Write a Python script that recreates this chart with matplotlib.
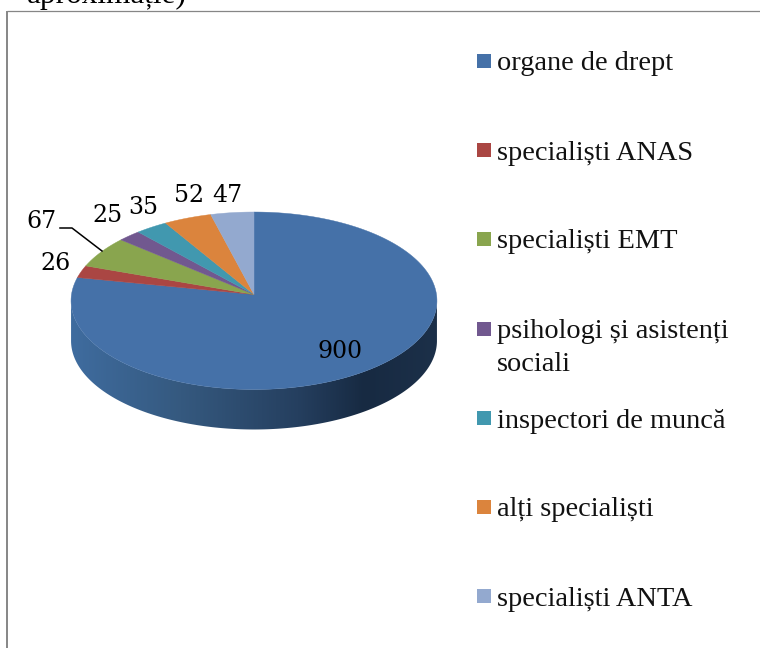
#!/usr/bin/env python3

import numpy as np

import matplotlib
matplotlib.use('Agg')
import matplotlib.pyplot as plt
from matplotlib.colors import LinearSegmentedColormap
from matplotlib.patches import Polygon, Rectangle

labels = ["organe de drept", "specialiști ANAS", "specialiști EMT",
          "psihologi și asistenți", "inspectori de muncă",
          "alți specialiști", "specialiști ANTA"]
values = [900, 26, 67, 25, 35, 52, 47]
colours = ["#4571A8", "#AA4643", "#89A54E", "#71588F", "#4198AF", "#DB843D", "#93A9CF"]

plt.rcParams['font.family'] = ['Liberation Serif', 'DejaVu Serif']

# pie centre and projection, in pixels
CX = 254.0
CY = 294.5
RX = 182.5
RY = 88.3
TILT = 0.0704
DEPTH = 40.0


def project(x, y):
    w = 1 + TILT * y
    return CX + RX * x / w, CY - RY * y / w


def arc(theta1, theta2, n=200):
    t = np.radians(np.linspace(theta1, theta2, n))
    return project(np.cos(t), np.sin(t))


fig = plt.figure(figsize=(7.6, 6.48), dpi=100)
ax = fig.add_axes([0, 0, 1, 1])

wedges, _ = ax.pie(values, colors=colours, startangle=90, counterclock=False)

ax.set_aspect('auto')
ax.axis('off')

# side wall of the disc, with the sideways shading
px, py = arc(180, 360)
keep = py >= CY + 6
px, py = px[keep], py[keep]
wall = np.column_stack([np.r_[px, px[::-1]], np.r_[py, py[::-1] + DEPTH]])
shade = LinearSegmentedColormap.from_list("wall", [(0, "#3F6C9F"), (0.3, "#35597F"), (0.62, "#253F5F"),
                                                   (0.8, "#172A42"), (1, "#1C3049")])
img = ax.imshow(np.linspace(0, 1, 256)[None, :], cmap=shade, extent=(71, 438, 440, 290),
                aspect='auto', zorder=1)
ax.set_xlim(0, 760)
ax.set_ylim(648, 0)
clip = Polygon(wall, transform=ax.transData, facecolor='none', edgecolor='none')
ax.add_patch(clip)
img.set_clip_path(clip)

# top face, angles from the pie
for w, colour in zip(wedges, colours):
    ax_x, ax_y = arc(w.theta1, w.theta2)
    cx, cy = project(0, 0)
    ax.add_patch(Polygon(np.column_stack([np.r_[cx, ax_x], np.r_[cy, ax_y]]),
                         facecolor=colour, edgecolor=colour, linewidth=0.3, zorder=2))
    w.set_visible(False)

# chart frame
ax.plot([7, 7], [648, 10.5], color="#868686", linewidth=1.4, solid_capstyle='butt')
ax.plot([7, 760], [10.5, 10.5], color="#868686", linewidth=0.9, solid_capstyle='butt')

# clipped line of the text above the chart
ax.text(27, 3, "aproximație)", fontsize=22.5, color="black", va='baseline')

# data labels
label_x = [340, 56, 41, 107, 143, 189, 227]
label_y = [351, 263, 222, 215, 208, 195, 196]
for v, x, y in zip(values, label_x, label_y):
    ax.text(x, y, str(v), fontsize=17, family='DejaVu Serif', color="black",
            ha='center', va='center', zorder=4)

# leader for the 67 label
ax.plot([60, 72, 102], [228, 228, 251], color="black", linewidth=1.1, zorder=3)

# legend
legend_y = [61, 150, 239, 329, 418, 507, 596]
for name, colour, y in zip(labels, colours, legend_y):
    ax.add_patch(Rectangle((477, y - 7), 14, 14, facecolor=colour, edgecolor='none'))
    ax.text(497, y + 9.5, name, fontsize=20.4, color="#111111", va='baseline')
ax.text(497, 371, "sociali", fontsize=20.4, color="#111111", va='baseline')

fig.savefig('out.png', dpi=100)
